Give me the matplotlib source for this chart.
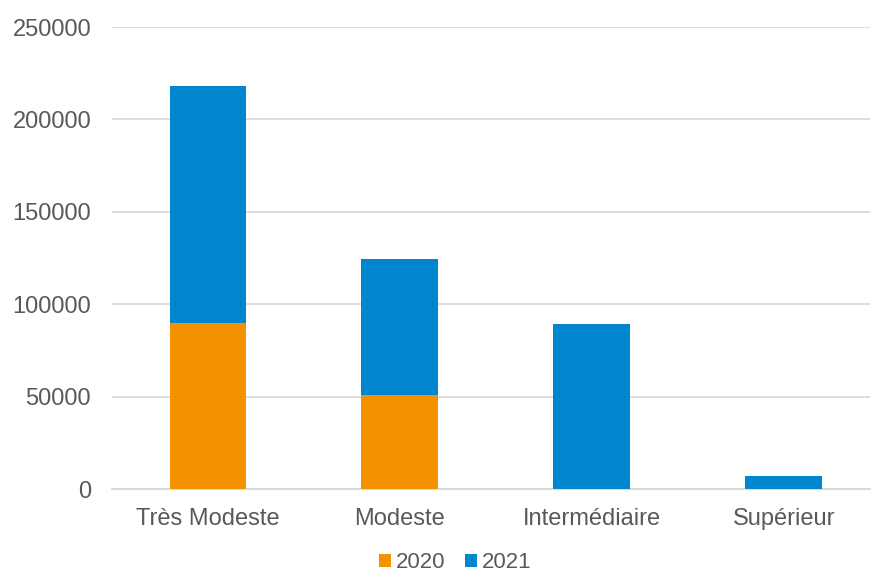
import matplotlib
import matplotlib.pyplot as plt
import numpy as np

matplotlib.use('Agg')

plt.rcParams['font.family'] = ['Liberation Sans', 'DejaVu Sans']

categories = ["Très Modeste", "Modeste", "Intermédiaire", "Supérieur"]
values_2020 = [90000, 51000, 0, 0]
values_2021 = [128000, 73200, 89200, 6900]
series_labels = ["2020", "2021"]
colors = ["#F39200", "#0085CE"]
yticks = [0, 50000, 100000, 150000, 200000, 250000]

text_color = "#595959"
grid_color = "#D9D9D9"

fig = plt.figure(figsize=(8.71, 5.76), dpi=100)
ax = fig.add_axes([112 / 871, 87 / 576, 758 / 871, 462 / 576])

x = np.arange(len(categories))
width = 0.4

ax.bar(x, values_2020, width, color=colors[0], label=series_labels[0], zorder=3)
ax.bar(x, values_2021, width, bottom=values_2020, color=colors[1], label=series_labels[1], zorder=3)

ax.set_ylim(0, 250000)
ax.set_xlim(-0.5, 3.45)
ax.set_yticks(yticks)
ax.set_yticklabels([str(v) for v in yticks])
ax.set_xticks(x)
ax.set_xticklabels(categories)

ax.yaxis.grid(True, color=grid_color, linewidth=1.3, zorder=0)
ax.set_axisbelow(True)
for side in ["top", "right", "left"]:
    ax.spines[side].set_visible(False)
ax.spines["bottom"].set_color(grid_color)
ax.spines["bottom"].set_linewidth(1.3)

ax.tick_params(axis="both", length=0, labelsize=17, labelcolor=text_color)
ax.tick_params(axis="y", pad=15)
ax.tick_params(axis="x", pad=14)

leg = fig.legend(loc="center", bbox_to_anchor=(455 / 871, 13 / 576), ncol=2, frameon=False,
                 fontsize=16, handlelength=0.55, handleheight=0.55, handletextpad=0.2,
                 columnspacing=0.9, borderpad=0)
for t in leg.get_texts():
    t.set_color(text_color)

plt.savefig("out.png", dpi=100)
plt.close()
